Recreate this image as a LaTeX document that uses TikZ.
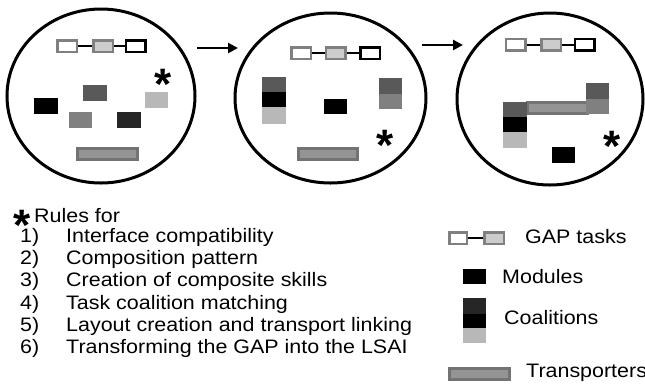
\documentclass[tikz,border=0pt]{standalone}
\usepackage{fontspec}
\setmainfont{Liberation Sans}
\newfontfamily\lab[FakeStretch=1.1]{Liberation Sans}
\usetikzlibrary{shapes.geometric,arrows.meta}
\definecolor{gvd}{gray}{0.15}
\definecolor{gdk}{gray}{0.35}
\definecolor{gmd}{gray}{0.5}
\definecolor{glt}{gray}{0.72}
\definecolor{gtr}{gray}{0.45}
\definecolor{gtrin}{gray}{0.58}
\definecolor{gdot}{gray}{0.8}
\tikzset{
  world/.style={ellipse, draw, line width=3pt, inner sep=0},
  blk/.style={rectangle, inner sep=0, outer sep=0},
  task/.style={rectangle, draw=gmd, line width=2.5pt, fill=white, inner sep=0, minimum width=19.5pt, minimum height=11.5pt},
  taskdot/.style={task, fill=gdot},
  taskend/.style={task, draw=black},
  tlink/.style={line width=2pt},
  trans/.style={rectangle, draw=gtr, fill=gtrin, line width=3pt, inner sep=0},
  star/.style={font=\bfseries\fontsize{44}{44}\selectfont, inner sep=0, anchor=base},
  txt/.style={font=\lab\fontsize{19.5}{22}\selectfont, inner sep=0, anchor=base west},
  flow/.style={-{Triangle[length=10pt,width=10pt]}, line width=2.5pt}
}
\begin{document}
\begin{tikzpicture}[x=1pt,y=-1pt]
\useasboundingbox (0,0) rectangle (645,384);
% ---------- world 1
\node[world, minimum width=188pt, minimum height=174pt] (w1) at (101,96) {};
\node[task] (g1a) at (67,46) {};
\node[taskdot] (g1b) at (103,46) {};
\node[taskend] (g1c) at (135.5,46) {};
\draw[tlink] (g1a) -- (g1b);
\draw[tlink] (g1b) -- (g1c);
\node[blk, fill=gdk, minimum width=24pt, minimum height=16pt] (m1a) at (95,93) {};
\node[blk, fill=black, minimum width=24pt, minimum height=16pt] (m1b) at (46,106) {};
\node[blk, fill=glt, minimum width=23pt, minimum height=16pt] (m1c) at (156.5,100) {};
\node[blk, fill=gmd, minimum width=23pt, minimum height=16pt] (m1d) at (80.5,120) {};
\node[blk, fill=gvd, minimum width=24pt, minimum height=16pt] (m1e) at (129,120) {};
\node[trans, minimum width=60pt, minimum height=11pt] (t1) at (107.5,154) {};
\node[star] (s1) at (163,99) {*};
% ---------- world 2
\node[world, minimum width=191pt, minimum height=170pt] (w2) at (330.5,98) {};
\node[task] (g2a) at (301,53) {};
\node[taskdot] (g2b) at (335.5,53) {};
\node[taskend] (g2c) at (370,53) {};
\draw[tlink] (g2a) -- (g2b);
\draw[tlink] (g2b) -- (g2c);
\node[blk, fill=gdk, minimum width=24pt, minimum height=15pt] (k2a) at (274,84.5) {};
\node[blk, fill=black, minimum width=24pt, minimum height=15pt] (k2b) at (274,99.5) {};
\node[blk, fill=glt, minimum width=24pt, minimum height=17pt] (k2c) at (274,115.5) {};
\node[blk, fill=black, minimum width=23pt, minimum height=15pt] (m2a) at (335.5,106.5) {};
\node[blk, fill=gdk, minimum width=23pt, minimum height=16pt] (k2d) at (390.5,86) {};
\node[blk, fill=gmd, minimum width=23pt, minimum height=15pt] (k2e) at (390.5,101.5) {};
\node[trans, minimum width=59pt, minimum height=11pt] (t2) at (328,154) {};
\node[star] (s2) at (385,160) {*};
% ---------- world 3
\node[world, minimum width=186pt, minimum height=172pt] (w3) at (550,99) {};
\node[task] (g3a) at (515.5,44.5) {};
\node[taskdot] (g3b) at (551,44.5) {};
\node[taskend] (g3c) at (584.5,44.5) {};
\draw[tlink] (g3a) -- (g3b);
\draw[tlink] (g3b) -- (g3c);
\node[trans, minimum width=60pt, minimum height=11pt] (t3) at (557,108) {};
\node[blk, fill=gdk, minimum width=24pt, minimum height=15pt] (k3a) at (515,109.5) {};
\node[blk, fill=black, minimum width=24pt, minimum height=15pt] (k3b) at (515,124.5) {};
\node[blk, fill=glt, minimum width=24pt, minimum height=16pt] (k3c) at (515,140) {};
\node[blk, fill=gdk, minimum width=23pt, minimum height=16pt] (k3d) at (597.5,91) {};
\node[blk, fill=gmd, minimum width=23pt, minimum height=15pt] (k3e) at (597.5,106.5) {};
\node[blk, fill=black, minimum width=23pt, minimum height=16pt] (m3a) at (563.5,155) {};
\node[star] (s3) at (612,161) {*};
% ---------- arrows
\coordinate (a1s) at (197,48);
\coordinate (a1e) at (238,48);
\coordinate (a2s) at (422,45);
\coordinate (a2e) at (463,45);
\draw[flow] (a1s) -- (a1e);
\draw[flow] (a2s) -- (a2e);
% ---------- rules
\node[star] (rs) at (22,240) {*};
\node[txt] (rh) at (34,222) {Rules for};
\node[txt] (n1) at (20,242) {1)};
\node[txt] (r1) at (66,242) {Interface compatibility};
\node[txt] (n2) at (20,264) {2)};
\node[txt] (r2) at (66,264) {Composition pattern};
\node[txt] (n3) at (20,286) {3)};
\node[txt] (r3) at (66,286) {Creation of composite skills};
\node[txt] (n4) at (20,309) {4)};
\node[txt] (r4) at (66,309) {Task coalition matching};
\node[txt] (n5) at (20,331) {5)};
\node[txt] (r5) at (66,331) {Layout creation and transport linking};
\node[txt] (n6) at (20,353) {6)};
\node[txt] (r6) at (66,353) {Transforming the GAP into the LSAI};
% ---------- legend
\node[task, minimum width=17.5pt] (lga) at (458,238) {};
\node[taskdot] (lgb) at (494,238) {};
\draw[tlink] (lga) -- (lgb);
\node[txt, anchor=west] (lgt) at (525,237) {GAP tasks};
\node[blk, fill=black, minimum width=23pt, minimum height=15pt] (lm) at (474.5,276.5) {};
\node[txt, anchor=west] (lmt) at (502,277) {Modules};
\node[blk, fill=gvd, minimum width=23pt, minimum height=16pt] (lca) at (474.5,306) {};
\node[blk, fill=black, minimum width=23pt, minimum height=14pt] (lcb) at (474.5,321) {};
\node[blk, fill=glt, minimum width=23pt, minimum height=15pt] (lcc) at (474.5,335.5) {};
\node[txt, anchor=west] (lct) at (504,318) {Coalitions};
\node[trans, minimum width=60pt, minimum height=11pt] (lt) at (479.5,374) {};
\node[txt, anchor=west] (ltt) at (526,373) {Transporters};
\end{tikzpicture}
\end{document}
